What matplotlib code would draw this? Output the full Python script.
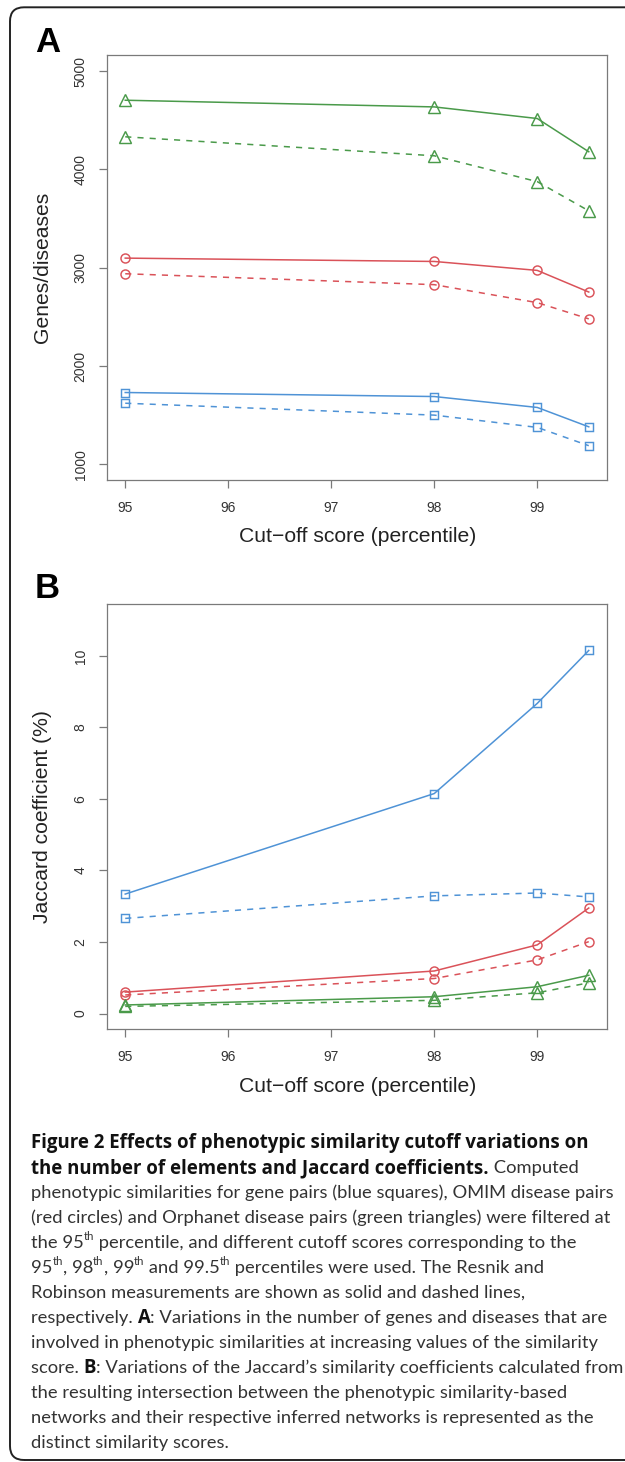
import matplotlib
matplotlib.use("Agg")
import matplotlib.pyplot as plt
from matplotlib.patches import FancyBboxPatch
from matplotlib.transforms import IdentityTransform

# ---------------- data ----------------
percentiles = [95, 98, 99, 99.5]
xtick_values = [95, 96, 97, 98, 99]

# Panel A: number of genes / diseases
genes_resnik = [1730, 1689, 1578, 1381]
genes_robinson = [1621, 1500, 1375, 1189]
omim_resnik = [3097, 3063, 2972, 2752]
omim_robinson = [2938, 2827, 2644, 2479]
orpha_resnik = [4703, 4635, 4517, 4179]
orpha_robinson = [4331, 4138, 3875, 3578]
a_yticks = [1000, 2000, 3000, 4000, 5000]

# Panel B: Jaccard coefficient (%)
jac_genes_resnik = [3.34, 6.15, 8.67, 10.15]
jac_genes_robinson = [2.66, 3.29, 3.37, 3.26]
jac_omim_resnik = [0.60, 1.19, 1.92, 2.95]
jac_omim_robinson = [0.52, 0.98, 1.50, 2.01]
jac_orpha_resnik = [0.24, 0.47, 0.75, 1.07]
jac_orpha_robinson = [0.20, 0.37, 0.58, 0.86]
b_yticks = [0, 2, 4, 6, 8, 10]

xlabel = "Cut\u2212off score (percentile)"
ylabel_a = "Genes/diseases"
ylabel_b = "Jaccard coefficient (%)"

# ---------------- style ----------------
W, H = 625, 1462
BLUE = "#4f93d6"
RED = "#da5259"
GREEN = "#4a9a4a"
FRAME = "#7a7a7a"
TICKC = "#333333"
AXFONT = "Liberation Sans"

fig = plt.figure(figsize=(W / 100, H / 100), dpi=100)
fig.patch.set_facecolor("white")


def px_axes(left, top, right, bottom):
    return [left / W, 1 - bottom / H, (right - left) / W, (bottom - top) / H]


def style_axes(ax, yticks, ylim):
    xr = max(percentiles) - min(percentiles)
    ax.set_xlim(min(percentiles) - 0.04 * xr, max(percentiles) + 0.04 * xr)
    yr = ylim[1] - ylim[0]
    ax.set_ylim(ylim[0] - 0.04 * yr, ylim[1] + 0.04 * yr)
    ax.set_xticks(xtick_values)
    ax.set_xticklabels([str(v) for v in xtick_values])
    ax.set_yticks(yticks)
    ax.set_yticklabels([str(v) for v in yticks], rotation=90, va="center")
    for sp in ax.spines.values():
        sp.set_color(FRAME)
        sp.set_linewidth(0.9)
    ax.tick_params(axis="both", direction="out", length=5.8, width=0.9,
                   color=FRAME, labelcolor=TICKC, labelsize=10)
    ax.tick_params(axis="x", pad=9)
    ax.tick_params(axis="y", pad=8)
    for lab in ax.get_xticklabels() + ax.get_yticklabels():
        lab.set_family(AXFONT)


def plot_series(ax, vals, color, marker, ms, ls):
    kw = dict(color=color, lw=1.1, marker=marker, ms=ms, mfc="none",
              mec=color, mew=1.05)
    if ls == "--":
        ax.plot(percentiles, vals, linestyle=(0, (4.0, 4.0)), **kw)
    else:
        ax.plot(percentiles, vals, linestyle="-", **kw)


# Panel A
axA = fig.add_axes(px_axes(106.7, 55.3, 607.3, 480.0))
plot_series(axA, orpha_resnik, GREEN, "^", 8.2, "-")
plot_series(axA, orpha_robinson, GREEN, "^", 8.2, "--")
plot_series(axA, omim_resnik, RED, "o", 6.5, "-")
plot_series(axA, omim_robinson, RED, "o", 6.5, "--")
plot_series(axA, genes_resnik, BLUE, "s", 5.6, "-")
plot_series(axA, genes_robinson, BLUE, "s", 5.6, "--")
style_axes(axA, a_yticks, (1000, 5000))

# Panel B
axB = fig.add_axes(px_axes(106.7, 604.3, 607.3, 1029.3))
plot_series(axB, jac_genes_resnik, BLUE, "s", 5.6, "-")
plot_series(axB, jac_genes_robinson, BLUE, "s", 5.6, "--")
plot_series(axB, jac_omim_resnik, RED, "o", 6.5, "-")
plot_series(axB, jac_omim_robinson, RED, "o", 6.5, "--")
plot_series(axB, jac_orpha_resnik, GREEN, "^", 8.2, "-")
plot_series(axB, jac_orpha_robinson, GREEN, "^", 8.2, "--")
style_axes(axB, b_yticks, (0, 11))


def ftxt(xpx, ypx, s, **kw):
    return fig.text(xpx / W, 1 - ypx / H, s, **kw)


# axis labels
for (top, bot, xl_y, yl) in [(55.3, 480.0, 537.0, ylabel_a),
                             (604.3, 1029.3, 1087.0, ylabel_b)]:
    ftxt(358, xl_y, xlabel, ha="center", va="center", fontsize=15.2,
         family=AXFONT, color="#222222")
    ftxt(43, (top + bot) / 2, yl, ha="center", va="center", rotation=90,
         fontsize=15.2, family=AXFONT, color="#222222")

# panel letters
ftxt(35, 52, "A", ha="left", va="baseline", fontsize=25, weight="bold",
     family=AXFONT, color="black")
ftxt(35, 598, "B", ha="left", va="baseline", fontsize=25, weight="bold",
     family=AXFONT, color="black")

# rounded frame
frame = FancyBboxPatch((10, H - 1460), 700, 1460 - 7.3,
                       boxstyle="round,pad=0,rounding_size=14",
                       transform=IdentityTransform(), fill=False,
                       edgecolor="#222222", linewidth=1.4)
fig.patches.append(frame)

# ---------------- caption ----------------
CAPFONT = "Lato"
BOLDFONT = "Open Sans"
N, B, S = "n", "b", "s"
caption_lines = [
    [("Figure 2 Effects of phenotypic similarity cutoff variations on", B)],
    [("the number of elements and Jaccard coefficients.", B), (" Computed", N)],
    [("phenotypic similarities for gene pairs (blue squares), OMIM disease pairs", N)],
    [("(red circles) and Orphanet disease pairs (green triangles) were filtered at", N)],
    [("the 95", N), ("th", S), (" percentile, and different cutoff scores corresponding to the", N)],
    [("95", N), ("th", S), (", 98", N), ("th", S), (", 99", N), ("th", S), (" and 99.5", N),
     ("th", S), (" percentiles were used. The Resnik and", N)],
    [("Robinson measurements are shown as solid and dashed lines,", N)],
    [("respectively. ", N), ("A", B), (": Variations in the number of genes and diseases that are", N)],
    [("involved in phenotypic similarities at increasing values of the similarity", N)],
    [("score. ", N), ("B", B), (": Variations of the Jaccard\u2019s similarity coefficients calculated from", N)],
    [("the resulting intersection between the phenotypic similarity-based", N)],
    [("networks and their respective inferred networks is represented as the", N)],
    [("distinct similarity scores.", N)],
]

renderer = fig.canvas.get_renderer()


def seg_kw(kind, size, bold_size):
    if kind == B:
        return dict(fontsize=bold_size, weight="bold", family=BOLDFONT,
                    color="#111111")
    if kind == S:
        return dict(fontsize=size * 0.62, weight="normal", family=CAPFONT,
                    color="#333333")
    return dict(fontsize=size, weight="normal", family=CAPFONT, color="#333333")


def seg_width(text, kind, size, bold_size):
    t = fig.text(0, 0, text, **seg_kw(kind, size, bold_size))
    w = t.get_window_extent(renderer).width
    t.remove()
    return w


def line_width(line, size, bold_size):
    return sum(seg_width(t, k, size, bold_size) for t, k in line)


base = 10.0
normal_lines = [l for l in caption_lines if all(k != B for _, k in l)]
maxw = max(line_width(l, base, base) for l in normal_lines)
cap_size = base * 588.0 / maxw
w1 = line_width(caption_lines[0], cap_size, base)
bold_size = base * 562.0 / w1
allmax = max(line_width(l, cap_size, bold_size) for l in caption_lines)
if allmax > 589.0:
    f = 589.0 / allmax
    cap_size *= f
    bold_size *= f

x0 = 31
baseline0 = 1148
spacing = 25.0
for i, line in enumerate(caption_lines):
    x = x0
    yb = baseline0 + i * spacing
    for text, kind in line:
        yy = yb - (cap_size * 0.45 * 100 / 72 if kind == S else 0)
        t = ftxt(x, yy, text, ha="left", va="baseline",
                 **seg_kw(kind, cap_size, bold_size))
        x += t.get_window_extent(renderer).width

fig.savefig("out.png", dpi=100)
